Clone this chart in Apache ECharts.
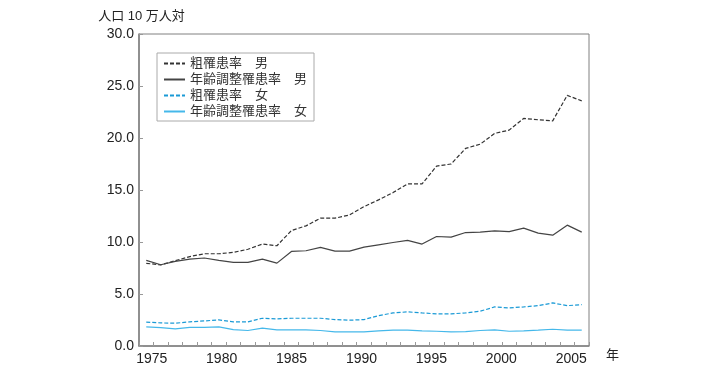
<!DOCTYPE html>
<html>
<head>
<meta charset="utf-8">
<script src="https://cdn.jsdelivr.net/npm/echarts@6/dist/echarts.min.js"></script>
<style>
html, body { margin: 0; padding: 0; background: #fff; }
#main { width: 718px; height: 376px; }
</style>
</head>
<body>
<div id="main"></div>
<script>
// 年次（1975-2005）
var years = [];
for (var y = 1975; y <= 2005; y++) years.push(String(y));
var labelYears = [1975, 1980, 1985, 1990, 1995, 2000, 2005];

var nameCrudeM = '粗罹患率　男';
var nameAdjM = '年齢調整罹患率　男';
var nameCrudeF = '粗罹患率　女';
var nameAdjF = '年齢調整罹患率　女';

var crudeMale = [7.95, 7.8, 8.2, 8.6, 8.87, 8.87, 9.0, 9.3, 9.8, 9.64,
    11.1, 11.55, 12.29, 12.29, 12.6, 13.4, 14.05, 14.75, 15.58, 15.58,
    17.3, 17.5, 19.0, 19.4, 20.44, 20.76, 21.88, 21.75, 21.65, 24.1, 23.57];
var adjMale = [8.23, 7.81, 8.13, 8.36, 8.46, 8.23, 8.04, 8.04, 8.36, 7.97,
    9.09, 9.16, 9.48, 9.13, 9.13, 9.51, 9.73, 9.95, 10.15, 9.8,
    10.53, 10.47, 10.91, 10.95, 11.07, 11.0, 11.33, 10.85, 10.66, 11.62, 10.95];
var crudeFemale = [2.3, 2.22, 2.19, 2.32, 2.41, 2.51, 2.32, 2.32, 2.67, 2.61,
    2.67, 2.67, 2.67, 2.54, 2.48, 2.54, 2.92, 3.18, 3.28, 3.18,
    3.09, 3.09, 3.18, 3.34, 3.76, 3.66, 3.76, 3.88, 4.14, 3.88, 3.98];
var adjFemale = [1.84, 1.77, 1.65, 1.8, 1.8, 1.84, 1.58, 1.49, 1.71, 1.55,
    1.55, 1.55, 1.49, 1.36, 1.36, 1.36, 1.46, 1.52, 1.52, 1.46,
    1.42, 1.36, 1.39, 1.49, 1.55, 1.42, 1.46, 1.52, 1.61, 1.52, 1.52];

var font = '"Liberation Sans", Arial, "Noto Sans CJK JP", sans-serif';
var axisGray = '#808080';

var myChart = echarts.init(document.getElementById('main'));
var option = {
    animation: false,
    textStyle: { fontFamily: font },
    grid: {
        left: 139, right: 129, top: 34, bottom: 30,
        show: true, borderColor: axisGray, borderWidth: 1,
        backgroundColor: 'transparent'
    },
    legend: {
        orient: 'vertical',
        left: 157, top: 53,
        padding: [4, 7, 3, 6],
        itemGap: 3,
        itemWidth: 21,
        itemHeight: 13,
        itemTextGap: 5,
        backgroundColor: '#fff',
        borderColor: '#aaa',
        borderWidth: 1,
        borderRadius: 0,
        itemStyle: { opacity: 0 },
        textStyle: { fontSize: 13, color: '#333', fontFamily: font },
        data: [nameCrudeM, nameAdjM, nameCrudeF, nameAdjF]
    },
    xAxis: [
        {
            type: 'category',
            data: years,
            boundaryGap: true,
            name: '年',
            nameLocation: 'end',
            nameGap: 17,
            nameTextStyle: { fontSize: 13, color: '#222', align: 'left', verticalAlign: 'top', padding: [3, 0, 0, 0] },
            axisLine: { lineStyle: { color: axisGray, width: 1.5 } },
            axisTick: { show: true, inside: true, length: 4, interval: 0, lineStyle: { color: '#999' } },
            axisLabel: { show: false },
            splitLine: { show: false }
        },
        {
            // 目盛ラベル用
            type: 'value',
            position: 'bottom',
            min: 1974.09, max: 2006.27,
            axisLine: { show: false },
            axisTick: { show: false },
            splitLine: { show: false },
            axisLabel: {
                customValues: labelYears,
                fontSize: 14, color: '#222', margin: 6,
                formatter: function (v) { return String(v); }
            }
        }
    ],
    yAxis: {
        type: 'value',
        min: 0, max: 30, interval: 5,
        name: '人口 10 万人対',
        nameLocation: 'end',
        nameGap: 11,
        nameTextStyle: { fontSize: 13, color: '#222', align: 'center', padding: [0, 0, 0, 5] },
        axisLine: { show: true, lineStyle: { color: axisGray, width: 1.5 } },
        axisTick: { show: true, inside: true, length: 4, lineStyle: { color: '#999' } },
        axisLabel: {
            fontSize: 14, color: '#222', margin: 5,
            formatter: function (v) { return v.toFixed(1); }
        },
        splitLine: { show: false }
    },
    series: [
        {
            name: nameCrudeM, type: 'line', data: crudeMale,
            symbol: 'none',
            lineStyle: { color: '#333', width: 1.2, type: [4, 2] },
            itemStyle: { color: '#333' }
        },
        {
            name: nameAdjM, type: 'line', data: adjMale,
            symbol: 'none',
            lineStyle: { color: '#444', width: 1.2 },
            itemStyle: { color: '#444' }
        },
        {
            name: nameCrudeF, type: 'line', data: crudeFemale,
            symbol: 'none',
            lineStyle: { color: '#1a9ad6', width: 1.2, type: [4, 2] },
            itemStyle: { color: '#1a9ad6' }
        },
        {
            name: nameAdjF, type: 'line', data: adjFemale,
            symbol: 'none',
            lineStyle: { color: '#45b8ea', width: 1.2 },
            itemStyle: { color: '#45b8ea' }
        }
    ]
};
myChart.setOption(option);
</script>
</body>
</html>
